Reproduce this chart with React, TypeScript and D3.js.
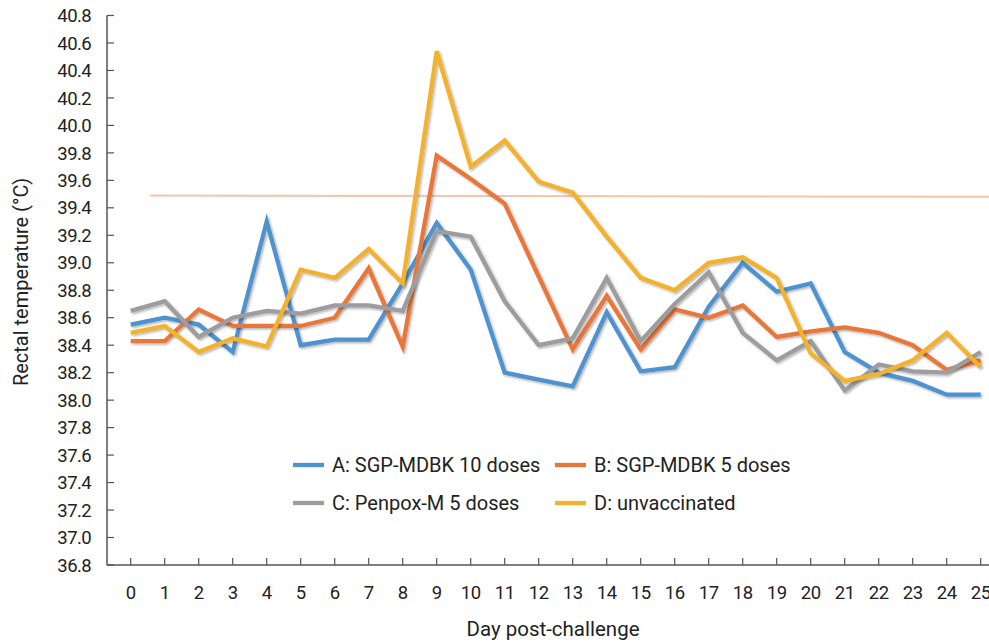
import React, { useRef, useEffect } from 'react'
import * as d3 from 'd3'

const days = d3.range(0, 26)

const seriesA = [38.55, 38.6, 38.55, 38.35, 39.3, 38.4, 38.44, 38.44, 38.85, 39.29, 38.95, 38.2, 38.15, 38.1, 38.64, 38.21, 38.24, 38.68, 39.0, 38.79, 38.85, 38.35, 38.2, 38.14, 38.04, 38.04]
const seriesB = [38.43, 38.43, 38.66, 38.54, 38.54, 38.54, 38.6, 38.96, 38.39, 39.78, 39.61, 39.43, 38.9, 38.37, 38.76, 38.37, 38.66, 38.6, 38.69, 38.46, 38.5, 38.53, 38.49, 38.4, 38.22, 38.29]
const seriesC = [38.65, 38.72, 38.46, 38.6, 38.65, 38.63, 38.69, 38.69, 38.65, 39.23, 39.19, 38.72, 38.4, 38.45, 38.89, 38.43, 38.7, 38.93, 38.49, 38.29, 38.43, 38.07, 38.26, 38.21, 38.2, 38.35]
const seriesD = [38.49, 38.54, 38.35, 38.45, 38.39, 38.95, 38.89, 39.1, 38.85, 40.54, 39.7, 39.89, 39.59, 39.51, 39.19, 38.89, 38.8, 39.0, 39.04, 38.89, 38.34, 38.14, 38.19, 38.29, 38.49, 38.24]

const seriesNames = ['A: SGP-MDBK 10 doses', 'B: SGP-MDBK 5 doses', 'C: Penpox-M 5 doses', 'D: unvaccinated']
const seriesColors = ['#4f93ce', '#e8773a', '#9d9d9f', '#f2b22e']

const yTicks = d3.range(36.8, 40.81, 0.2)
const thresholdLine = [{ day: 0.57, value: 39.49 }, { day: 25.3, value: 39.48 }]

const FONT = 'Roboto, "Liberation Sans", Arial, sans-serif'

export default function App() {
  const svgRef = useRef<SVGSVGElement | null>(null)

  useEffect(() => {
    if (!svgRef.current) return
    const svg = d3.select(svgRef.current)
    svg.selectAll('*').remove()

    const width = 989
    const height = 644
    const axisLeft = 107
    const axisBottom = 565

    const x = d3.scaleLinear().domain([0, 25]).range([130.7, 980.7])
    const y = d3.scaleLinear().domain([36.8, 40.8]).range([565, 15.5])

    // drop shadow like the spreadsheet lines
    const defs = svg.append('defs')
    const filter = defs.append('filter').attr('id', 'shadow').attr('x', '-5%').attr('y', '-5%').attr('width', '110%').attr('height', '120%')
    filter.append('feDropShadow')
      .attr('dx', 1.5).attr('dy', 1.5).attr('stdDeviation', 1.2)
      .attr('flood-color', '#000').attr('flood-opacity', 0.3)

    svg.append('rect').attr('width', width).attr('height', height).attr('fill', '#fff')

    // y axis
    const yAxis = svg.append('g')
    yAxis.append('line')
      .attr('x1', axisLeft).attr('x2', axisLeft)
      .attr('y1', y(40.8)).attr('y2', axisBottom)
      .attr('stroke', '#555').attr('stroke-width', 1.5)
    yAxis.selectAll('.ytick')
      .data(yTicks)
      .enter().append('line')
      .attr('x1', axisLeft).attr('x2', axisLeft + 7)
      .attr('y1', d => y(d)).attr('y2', d => y(d))
      .attr('stroke', '#555').attr('stroke-width', 1.2)
    yAxis.selectAll('.ylabel')
      .data(yTicks)
      .enter().append('text')
      .attr('x', 91)
      .attr('y', d => y(d))
      .attr('dy', '0.36em')
      .attr('text-anchor', 'end')
      .style('font-family', FONT)
      .style('font-size', '18.5px')
      .style('letter-spacing', '-0.6px')
      .style('fill', '#222')
      .text(d => d.toFixed(1))

    // x axis
    const xAxis = svg.append('g')
    xAxis.append('line')
      .attr('x1', axisLeft).attr('x2', width)
      .attr('y1', axisBottom).attr('y2', axisBottom)
      .attr('stroke', '#555').attr('stroke-width', 1.5)
    xAxis.selectAll('.xtick')
      .data(days)
      .enter().append('line')
      .attr('x1', d => x(d)).attr('x2', d => x(d))
      .attr('y1', axisBottom).attr('y2', axisBottom - 7)
      .attr('stroke', '#555').attr('stroke-width', 1.2)
    xAxis.selectAll('.xlabel')
      .data(days)
      .enter().append('text')
      .attr('x', d => x(d))
      .attr('y', 592)
      .attr('dy', '0.36em')
      .attr('text-anchor', 'middle')
      .style('font-family', FONT)
      .style('font-size', '18.5px')
      .style('letter-spacing', '-0.4px')
      .style('fill', '#222')
      .text(d => String(d))

    // axis titles
    svg.append('text')
      .attr('transform', `translate(21,282) rotate(-90)`)
      .attr('dy', '0.36em')
      .attr('text-anchor', 'middle')
      .style('font-family', FONT)
      .style('font-size', '20px')
      .style('fill', '#222')
      .text('Rectal temperature (°C)')
    svg.append('text')
      .attr('x', 553)
      .attr('y', 629)
      .attr('dy', '0.36em')
      .attr('text-anchor', 'middle')
      .style('font-family', FONT)
      .style('font-size', '20.5px')
      .style('fill', '#222')
      .text('Day post-challenge')

    // threshold line
    svg.append('path')
      .datum(thresholdLine)
      .attr('d', d3.line<{ day: number; value: number }>().x(d => x(d.day)).y(d => y(d.value)))
      .attr('fill', 'none')
      .attr('stroke', '#f6c3ad')
      .attr('stroke-width', 2)

    // series lines
    const allSeries = [seriesA, seriesB, seriesC, seriesD]
    const line = d3.line<number>().x((_, i) => x(days[i])).y(d => y(d))
    allSeries.forEach((values, i) => {
      svg.append('path')
        .datum(values)
        .attr('d', line)
        .attr('fill', 'none')
        .attr('stroke', seriesColors[i])
        .attr('stroke-width', 4.3)
        .attr('stroke-linejoin', 'miter')
        .attr('filter', 'url(#shadow)')
    })

    // legend
    const legendPos = [
      { x: 293, y: 465 },
      { x: 555, y: 465 },
      { x: 293, y: 503 },
      { x: 555, y: 503 }
    ]
    const legend = svg.append('g')
    seriesNames.forEach((name, i) => {
      const p = legendPos[i]
      legend.append('line')
        .attr('x1', p.x).attr('x2', p.x + 31)
        .attr('y1', p.y).attr('y2', p.y)
        .attr('stroke', seriesColors[i])
        .attr('stroke-width', 4.3)
      legend.append('text')
        .attr('x', p.x + 39)
        .attr('y', p.y)
        .attr('dy', '0.36em')
        .style('font-family', FONT)
        .style('font-size', '20px')
        .style('fill', '#222')
        .text(name)
    })
  }, [])

  return (
    <svg
      ref={svgRef}
      width={989}
      height={644}
      style={{ position: 'absolute', left: 0, top: 0, display: 'block' }}
    />
  )
}
